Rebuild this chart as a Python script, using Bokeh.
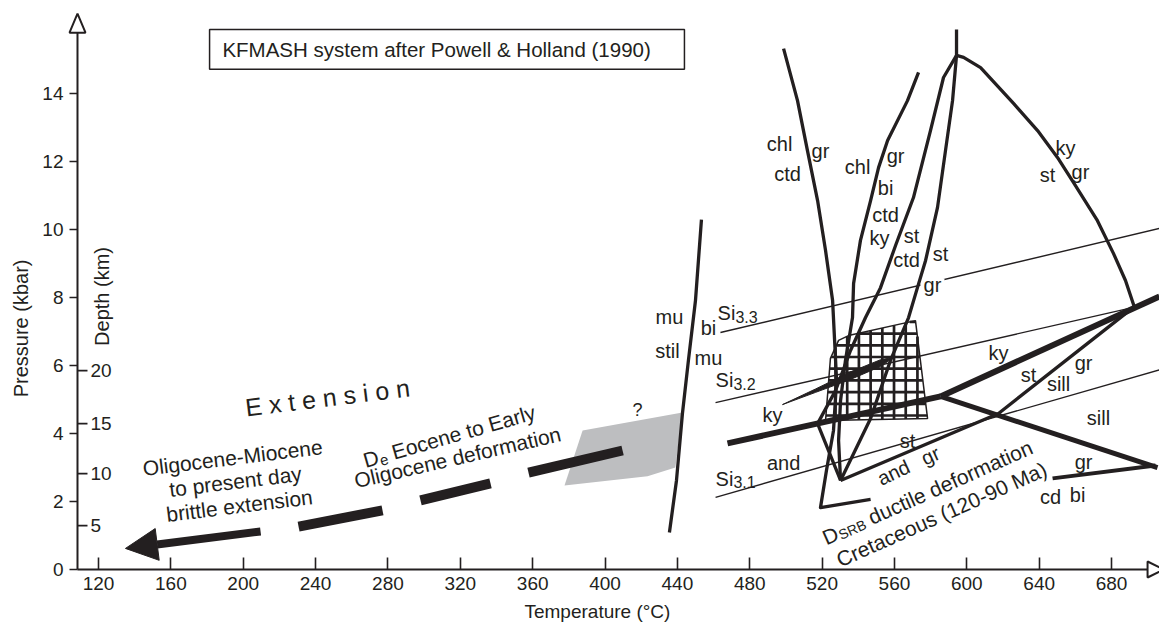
import numpy as np
from bokeh.plotting import figure
from bokeh.models import Range1d, FixedTicker, Arrow, NormalHead
from bokeh.core.properties import value
from bokeh.embed import file_html
from bokeh.resources import INLINE

BLACK = "#231f20"
GRAY = "#bdbec0"
FONT = "Liberation Sans"

# ---------------- axes ----------------
x_ticks = [120, 160, 200, 240, 280, 320, 360, 400, 440, 480, 520, 560, 600, 640, 680]
y_ticks = [0, 2, 4, 6, 8, 10, 12, 14]
depth_km = ["5", "10", "15", "20"]
depth_P = [1.29, 2.82, 4.29, 5.85]
T_axis = 108.39          # temperature where the pressure axis stands
T_end, P_end = 699.9, 15.79  # where the axis lines meet their arrow heads

# visible window
XR = (65.83, 706.5)
YR = (-1.941, 16.735)

# ---------------- reaction curves (T degC, P kbar) ----------------
curve_A_T = [498.7, 506.4, 511.9, 517.5, 521.9, 525.8, 526.9, 528.0, 526.3, 522.4, 519.1, 546.8]
curve_A_P = [15.32, 13.79, 12.32, 10.85, 9.38, 7.91, 6.74, 5.56, 4.09, 2.91, 1.82, 2.06]
curve_B_T = [573.3, 567.2, 556.2, 551.2, 546.8, 541.2, 537.4, 536.8, 532.9, 530.2, 529.1, 530.2]
curve_B_P = [14.62, 13.79, 12.62, 11.82, 10.85, 9.68, 8.41, 7.41, 6.15, 4.97, 3.79, 2.62]
curve_C_T = [594.3, 587.1, 579.9, 570.5, 560.6, 552.3, 544.0, 535.7, 527.4, 517.5, 530.2]
curve_C_P = [15.12, 14.47, 12.91, 10.94, 9.53, 8.29, 7.41, 6.44, 5.26, 4.29, 2.62]
curve_D_T = [594.3, 592.1, 588.2, 583.8, 577.2, 572.7, 567.8, 557.8, 546.8, 530.2]
curve_D_P = [15.12, 13.79, 12.32, 10.65, 9.09, 8.29, 7.41, 6.15, 4.44, 2.62]
arc_T = [594.3, 598.2, 607.6, 625.8, 639.1, 650.1, 659.0, 672.2, 681.1, 687.7, 692.6]
arc_P = [15.12, 15.06, 14.76, 13.71, 12.91, 12.12, 11.38, 10.26, 9.29, 8.50, 7.72]
stub_T = [594.3, 594.3]
stub_P = [15.12, 15.88]
stgr_T = [530.2, 617.5, 692.1]
stgr_P = [2.62, 4.59, 7.71]
mu_T = [435.6, 439.5, 442.8, 446.1, 450.0, 453.3]
mu_P = [1.09, 2.62, 4.59, 6.15, 7.91, 10.29]

ky_and_T = [467.7, 585.5]
ky_and_P = [3.71, 5.09]
ky_sill_T = [585.5, 706.5]
ky_sill_P = [5.09, 8.03]
and_sill_T = [585.5, 705.4]
and_sill_P = [5.09, 3.00]
cdbi_T = [647.4, 704.3]
cdbi_P = [2.68, 3.06]

si33_T = [463.8, 706.5]
si33_P = [6.97, 10.03]
si32_T = [461.1, 692.1]
si32_P = [4.91, 7.71]
si31_T = [461.1, 706.5]
si31_P = [2.12, 5.87]

# P-T boxes
gray_T = [387.6, 442.8, 438.9, 423.5, 377.6]
gray_P = [4.09, 4.62, 3.00, 2.74, 2.47]
grid_T = [521.9, 524.6, 529.1, 534.6, 571.6, 578.3]
grid_P = [4.38, 6.21, 6.74, 6.88, 7.32, 4.44]
lens_T = [498.1, 516.4, 535.7, 552.3, 559.5, 552.3, 535.7, 516.4]
lens_P = [4.85, 5.31, 5.81, 6.17, 6.24, 5.97, 5.59, 5.21]

# deformation paths
de_T0 = [230.6, 298.0, 357.7]
de_P0 = [1.26, 2.03, 2.85]
de_T1 = [277.0, 336.7, 409.7]
de_P1 = [1.74, 2.53, 3.50]
brittle_T = [209.6, 134.9]
brittle_P = [1.12, 0.62]

# mineral labels
lab_text = ["chl", "gr", "ctd", "chl", "gr", "bi", "ctd", "ky", "st", "ctd", "st", "gr",
            "ky", "st", "gr", "mu", "stil", "bi", "mu", "ky", "and", "st",
            "ky", "st", "sill", "gr", "sill", "gr", "cd", "bi"]
lab_T = [496.5, 519.1, 500.9, 539.6, 560.6, 555.1, 555.1, 551.7, 569.4, 566.7, 585.5, 581.0,
         654.6, 644.6, 662.8, 435.6, 434.5, 457.2, 457.2, 492.6, 498.7, 567.2,
         617.5, 634.1, 650.7, 664.5, 672.8, 664.5, 646.3, 661.2]
lab_P = [12.50, 12.32, 11.62, 11.85, 12.15, 11.21, 10.44, 9.76, 9.82, 9.09, 9.29, 8.38,
         12.41, 11.59, 11.68, 7.44, 6.44, 7.09, 6.21, 4.53, 3.12, 3.79,
         6.38, 5.71, 5.47, 6.06, 4.47, 3.15, 2.12, 2.18]
rot_text = ["and", "gr"]
rot_T = [559.5, 579.9]
rot_P = [2.85, 3.35]
si_T = [462.2, 461.1, 461.1]
si_P = [7.53, 5.56, 2.65]
si_sub = ["3.3", "3.2", "3.1"]
si_sub_T = [472.1, 471.0, 471.0]
si_sub_P = [7.44, 5.47, 2.56]

W, H = 1159, 635
PX_T = W / (XR[1] - XR[0])
PX_P = H / (YR[1] - YR[0])

p = figure(width=W, height=H, x_range=Range1d(*XR), y_range=Range1d(*YR),
           output_backend="svg", toolbar_location=None, min_border=0,
           outline_line_color=None, background_fill_color="white", border_fill_color="white")
p.grid.visible = False
for ax in (p.xaxis, p.yaxis):
    ax.axis_line_color = None
    ax.major_tick_line_color = BLACK
    ax.major_tick_line_width = 1.6
    ax.minor_tick_line_color = None
    ax.major_label_text_font = FONT
    ax.major_label_text_font_size = "19px"
    ax.major_label_text_color = BLACK
p.xaxis.fixed_location = 0
p.yaxis.fixed_location = T_axis
p.xaxis.ticker = FixedTicker(ticks=x_ticks)
p.yaxis.ticker = FixedTicker(ticks=y_ticks)
p.xaxis.major_tick_in = 12
p.xaxis.major_tick_out = 0
p.xaxis.major_label_standoff = 7
p.yaxis.major_tick_in = 0
p.yaxis.major_tick_out = 8
p.yaxis.major_label_standoff = 6

def tx(xs, ys, texts, size="20px", align="center", baseline="middle", angle=0.0):
    p.text(x=xs, y=ys, text=texts, angle=angle, text_font=value(FONT), text_font_size=size,
           text_align=align, text_baseline=baseline, text_color=BLACK)

def along(T, P, dist, drop, ang_deg):
    a = np.radians(ang_deg)
    dx = dist * np.cos(a) + drop * np.sin(a)
    dy = dist * np.sin(a) - drop * np.cos(a)
    return T + dx / PX_T, P + dy / PX_P

def runs_text(T, P, ang, runs):
    for t, s, d, dr in runs:
        x, y = along(T, P, d, dr, ang)
        tx([x], [y], [t], size=s, align="left", angle=np.radians(ang))

def clip_grid(px, py, vals, vertical):
    xs, ys = [], []
    n = len(px)
    for v in vals:
        hits = []
        for i in range(n):
            x0, y0, x1, y1 = px[i], py[i], px[(i + 1) % n], py[(i + 1) % n]
            a0, a1, b0, b1 = (x0, x1, y0, y1) if vertical else (y0, y1, x0, x1)
            if a0 != a1 and (a0 - v) * (a1 - v) <= 0:
                t = (v - a0) / (a1 - a0)
                hits.append(b0 + t * (b1 - b0))
        if len(hits) >= 2:
            lo, hi = min(hits), max(hits)
            if vertical:
                xs.append([v, v]); ys.append([lo, hi])
            else:
                xs.append([lo, hi]); ys.append([v, v])
    return xs, ys

# axis lines and arrow heads
p.segment(x0=[T_axis, T_axis], y0=[0, 0], x1=[T_end, T_axis], y1=[0, P_end],
          line_color=BLACK, line_width=2)
p.patch([T_axis - 8 / PX_T, T_axis + 8 / PX_T, T_axis], [P_end, P_end, P_end + 19 / PX_P],
        fill_color="white", line_color=BLACK, line_width=2)
p.patch([T_end, T_end, T_end + 16 / PX_T], [-8 / PX_P, 8 / PX_P, 0],
        fill_color="white", line_color=BLACK, line_width=2)

# title box
p.quad(left=[181.4], right=[443.9], bottom=[14.71], top=[15.88], fill_color="white",
       line_color=BLACK, line_width=1.5)
tx([188.5], [15.29], ["KFMASH system after Powell & Holland (1990)"], size="20.5px", align="left")

# gray box
p.patch(gray_T, gray_P, fill_color=GRAY, line_color=None)

# hatched P-T box
gx = np.arange(527.4, 578.3, 6.47)
gy = np.arange(4.53, 7.33, 0.344)
vx, vy = clip_grid(grid_T, grid_P, gx, True)
hx, hy = clip_grid(grid_T, grid_P, gy, False)
p.multi_line(vx + hx, vy + hy, line_color=BLACK, line_width=2.7)
p.patch(grid_T, grid_P, fill_color=None, line_color=BLACK, line_width=1.5)

# thin Si lines (the "gr" label on Si3.3 interrupts it)
p.multi_line([si33_T, si32_T, si31_T], [si33_P, si32_P, si31_P], line_color=BLACK, line_width=1.4)
gi = 11
p.rect(x=[lab_T[gi]], y=[lab_P[gi]], width=24 / PX_T, height=12 / PX_P,
       fill_color="white", line_color=None)

# reaction curves
p.multi_line([curve_A_T, curve_B_T, curve_C_T, curve_D_T, arc_T, stub_T, stgr_T, mu_T],
             [curve_A_P, curve_B_P, curve_C_P, curve_D_P, arc_P, stub_P, stgr_P, mu_P],
             line_color=BLACK, line_width=3.3, line_join="round")
p.multi_line([ky_and_T, ky_sill_T], [ky_and_P, ky_sill_P], line_color=BLACK, line_width=6)
p.line(and_sill_T, and_sill_P, line_color=BLACK, line_width=5)
p.line(cdbi_T, cdbi_P, line_color=BLACK, line_width=4)
p.patch(lens_T, lens_P, fill_color=BLACK, line_color=BLACK, line_width=1)

# deformation paths
p.segment(x0=de_T0, y0=de_P0, x1=de_T1, y1=de_P1, line_color=BLACK, line_width=10)
p.add_layout(Arrow(end=NormalHead(size=32, fill_color=BLACK, line_color=BLACK, line_width=1),
                   x_start=brittle_T[0], y_start=brittle_P[0], x_end=brittle_T[1], y_end=brittle_P[1],
                   line_color=BLACK, line_width=8))

# depth scale
p.segment(x0=[T_axis] * 4, y0=depth_P, x1=[T_axis + 10 / PX_T] * 4, y1=depth_P,
          line_color=BLACK, line_width=1.6)
tx([T_axis + 13 / PX_T] * 4, depth_P, depth_km, size="19px", align="left")

# labels
tx(lab_T, lab_P, lab_text)
tx(rot_T, rot_P, rot_text, angle=np.radians(25))
tx([418.0], [4.68], ["?"], size="18px")

# Si labels with subscripts
tx(si_T, si_P, ["Si"] * 3, align="left")
tx(si_sub_T, si_sub_P, si_sub, size="16px", align="left")

# Extension block
tx([246.6], [5.06], ["E x t e n s i o n"], size="25px", angle=np.radians(7))
tx([194.1, 195.7, 197.9], [3.29, 2.59, 1.88],
   ["Oligocene-Miocene", "to present day", "brittle extension"], size="21px", angle=np.radians(7))

# De text
runs_text(266.6, 3.20, 16, [("D", "21px", 0, 0), ("e", "15px", 15.6, 5),
                            ("Eocene to Early", "21px", 29.7, 0)])
tx([318.5], [3.30], ["Oligocene deformation"], size="21px", angle=np.radians(13))

# DSRB text
runs_text(520.8, 0.91, 24, [("D", "21px", 0, 0), ("SRB", "14px", 15.6, 3.5),
                            ("ductile deformation", "21px", 50.0, 0)])
tx([586.0], [1.62], ["Cretaceous (120-90 Ma)"], size="21px", angle=np.radians(24))

# axis titles
tx([77.4], [7.09], ["Pressure (kbar)"], angle=np.pi / 2)
tx([121.7], [8.03], ["Depth (km)"], angle=np.pi / 2)
tx([395.8], [-1.24], ["Temperature (\u00b0C)"], size="19px")

open("out.html", "w").write(file_html(p, INLINE))
